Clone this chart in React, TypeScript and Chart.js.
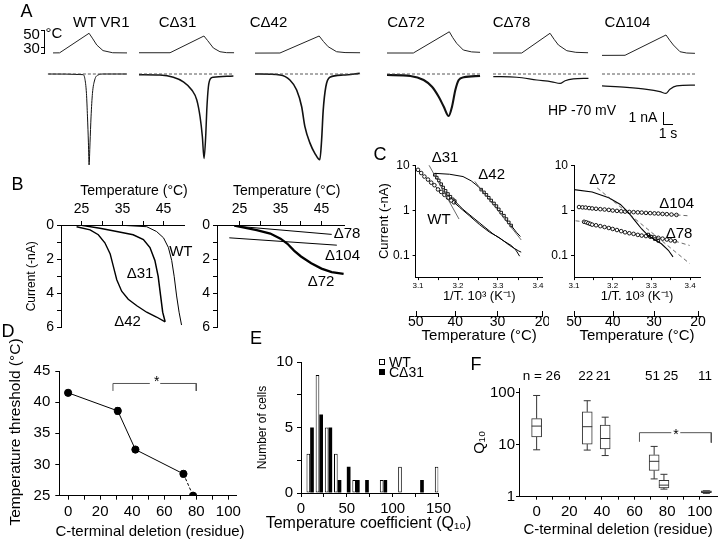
import React, { useEffect, useRef } from 'react';
import { Chart, registerables } from 'chart.js';
Chart.register(...registerables);

const FONT = "'Liberation Sans', Arial, Helvetica, sans-serif";
Chart.defaults.font.family = FONT;
Chart.defaults.color = '#000';

type P = [number, number];

// ---------------- Panel A data: [time s, temperature °C] / [time s, current nA] ----------------
const aTitles = ['WT VR1', 'CΔ31', 'CΔ42', 'CΔ72', 'CΔ78', 'CΔ104'];
const tempWT: P[] = [[3.1, 24.1], [3.8, 24.2], [6.95, 47.2], [7.3, 41.5], [7.77, 33.4], [8.44, 26.8], [9.47, 24.3], [11, 24.1]];
const curWT: P[] = [[2.6, 0], [6.3, -0.05], [6.49, -0.33], [6.67, -1.5], [6.78, -3.3], [6.88, -5.3], [6.95, -7.0], [7.05, -5.3], [7.16, -3.3], [7.31, -1.5], [7.55, -0.46], [7.9, -0.08], [8.5, 0], [11, 0]];
const baseWT: P[] = [[2.55, 0], [11, 0]];
const tempD31: P[] = [[0, 24.3], [3.3, 24.3], [6.9, 44], [7.3, 38.5], [7.9, 29.9], [8.6, 25.5], [9.3, 24.4], [10.1, 24.3]];
const curD31: P[] = [[0, -0.05], [2.23, -0.08], [3.65, -0.25], [4.71, -0.6], [5.61, -1.23], [6.14, -2.0], [6.49, -3.3], [6.73, -4.8], [6.91, -6.5], [7.1, -4.6], [7.2, -2.8], [7.37, -1.0], [7.63, -0.33], [7.9, -0.25], [10.03, -0.15]];
const baseD31: P[] = [[0, 0], [10.1, 0]];
const tempD42: P[] = [[0, 23.9], [2.66, 24], [6.84, 44], [7.3, 37.5], [7.8, 31.4], [8.7, 25.5], [9.6, 24.5], [11.2, 24.3]];
const curD42: P[] = [[0, 0], [2.66, -0.08], [3.72, -0.46], [4.44, -1.23], [4.97, -2.5], [5.32, -4.05], [5.85, -5.3], [6.38, -6.1], [6.91, -6.6], [7.1, -5.1], [7.27, -2.8], [7.55, -0.98], [7.98, -0.25], [9.39, -0.08], [11.17, 0.05]];
const baseD42: P[] = [[0, 0], [11.2, 0]];
const tempD72: P[] = [[0, 24], [2.8, 24], [6.63, 49], [7.0, 42], [7.41, 35.4], [8.12, 27.5], [9.0, 25.3], [9.9, 24.8]];
const curD72: P[] = [[0, -0.08], [2.48, -0.15], [3.9, -0.46], [4.79, -0.98], [5.5, -1.75], [6.03, -2.5], [6.56, -3.23], [6.92, -2.5], [7.27, -1.23], [7.63, -0.46], [8.16, -0.25], [9.9, -0.15]];
const baseD72: P[] = [[0, 0], [9.95, 0]];
const tempD78: P[] = [[0, 24], [3.05, 24], [6.06, 47.2], [6.5, 40], [6.95, 33.4], [7.84, 26.7], [8.8, 24.8], [10.1, 24.3]];
const curD78: P[] = [[0.03, -0.2], [2.52, -0.25], [4.65, -0.46], [6.24, -0.6], [7.13, -0.72], [7.66, -0.52], [8.54, -0.38], [10.14, -0.33]];
const baseD78: P[] = [[0, 0], [10.1, 0]];
const tempD104: P[] = [[0, 21.2], [2.45, 21.3], [6.81, 45.2], [7.2, 39], [7.59, 33.4], [8.3, 25.5], [9.0, 24.0], [9.89, 23.6]];
const curD104: P[] = [[0, -0.92], [2.63, -1.03], [4.76, -1.18], [6.17, -1.36], [6.81, -1.49], [7.23, -1.18], [7.95, -0.92], [9.89, -0.85]];
const baseD104: P[] = [[0, 0], [9.9, 0]];

// ---------------- Panel B data: [temperature °C, current -nA] ----------------
const bTempTicks = [25, 30, 35, 40, 45];
const bTempLabels = [25, 35, 45];
const bCurTicks = [0, 1, 2, 3, 4, 5, 6];
const bCurLabels = [0, 2, 4, 6];
const bWT: P[] = [[24, 0], [30, 0.01], [35, 0.02], [40.9, 0.1], [43.3, 0.38], [45, 0.75], [46.2, 1.32], [47, 2.07], [47.6, 3.0], [48.2, 4.15], [48.8, 5.1], [49.4, 5.85]];
const bD31: P[] = [[24, 0], [25, 0.02], [29.5, 0.19], [33.6, 0.38], [37.6, 0.57], [40.1, 0.85], [41.7, 1.32], [42.9, 2.07], [43.7, 3.0], [44.3, 4.15], [44.8, 5.1], [45.4, 5.66]];
const bD42: P[] = [[23.8, 0.1], [27.1, 0.28], [29.1, 0.57], [30.7, 1.04], [32, 1.7], [32.8, 2.45], [33.6, 3.2], [34.8, 3.87], [36.4, 4.34], [38.5, 4.72], [40.9, 5.1], [43.3, 5.38], [45.4, 5.66]];
const bD72: P[] = [[23.75, 0.04], [29.2, 0.3], [32.5, 0.5], [35, 0.8], [36.7, 1.1], [38.3, 1.5], [40, 1.84], [42.5, 2.24], [45, 2.55], [47.5, 2.75], [50.4, 2.86]];
const bD78: P[] = [[23.75, 0.06], [47.5, 0.55]];
const bD104: P[] = [[22.5, 0.75], [48.75, 1.18]];

// ---------------- Panel C data: [1/T x 10^3 (1/K), current -nA] ----------------
const cInvTicks = [3.1, 3.15, 3.2, 3.25, 3.3, 3.35, 3.4];
const cInvLabels = [3.1, 3.2, 3.3, 3.4];
const cTempTicks = [50, 40, 30, 20];
const cCurTicks = [0.1, 1, 10];
const cWTcirc: P[] = [[3.1, 7.9], [3.108, 6.7], [3.116, 5.6], [3.125, 4.8], [3.133, 4.1], [3.141, 3.6], [3.15, 2.9], [3.158, 2.55], [3.166, 2.2], [3.175, 1.9], [3.183, 1.65], [3.19, 1.5]];
const cWTline: P[] = [[3.19, 1.5], [3.204, 1.16], [3.229, 0.75], [3.254, 0.48], [3.279, 0.326], [3.304, 0.245], [3.329, 0.166], [3.342, 0.141], [3.352, 0.125], [3.358, 0.118]];
const cD31sq: P[] = [[3.142, 6.1], [3.147, 5.3], [3.152, 4.6], [3.158, 3.8], [3.163, 3.2], [3.169, 2.7], [3.175, 2.3], [3.181, 2.0], [3.187, 1.75], [3.192, 1.6]];
const cD31line: P[] = [[3.192, 1.6], [3.2125, 1.05], [3.2375, 0.69], [3.2625, 0.455], [3.2875, 0.3], [3.3125, 0.214], [3.333, 0.166], [3.345, 0.13], [3.354, 0.096]];
const cD31fit: P[] = [[3.125, 11], [3.2025, 0.64]];
const cD42line: P[] = [[3.142, 6.6], [3.179, 6.3], [3.2125, 5.6], [3.233, 4.5], [3.25, 3.4], [3.258, 2.87]];
const cD42sq: P[] = [[3.258, 2.87], [3.265, 2.5], [3.271, 2.2], [3.277, 1.9], [3.283, 1.65], [3.29, 1.42], [3.296, 1.24], [3.302, 1.05], [3.308, 0.89], [3.315, 0.76], [3.321, 0.64], [3.327, 0.54], [3.333, 0.46]];
const cD42end: P[] = [[3.333, 0.46], [3.346, 0.326], [3.356, 0.262]];
const cD42fit: P[] = [[3.242, 4.37], [3.358, 0.22]];
const cD72line: P[] = [[3.1, 2.87], [3.147, 2.55], [3.19, 1.89], [3.22, 1.35], [3.241, 0.89], [3.258, 0.585], [3.275, 0.385], [3.292, 0.275], [3.309, 0.222], [3.326, 0.181], [3.344, 0.13], [3.356, 0.093]];
const cD72sq: P[] = [[3.292, 0.29], [3.3, 0.26], [3.309, 0.23], [3.318, 0.21]];
const cD72fit: P[] = [[3.16, 3.13], [3.399, 0.066]];
const cD104circ: P[] = [[3.113, 1.18], [3.122, 1.16], [3.13, 1.15], [3.139, 1.12], [3.147, 1.1], [3.157, 1.08], [3.168, 1.06], [3.179, 1.04], [3.19, 1.02], [3.2, 0.99], [3.211, 0.97], [3.222, 0.95], [3.232, 0.935], [3.243, 0.92], [3.254, 0.91], [3.265, 0.9], [3.275, 0.89], [3.286, 0.875], [3.297, 0.865], [3.308, 0.855], [3.318, 0.846], [3.329, 0.83], [3.34, 0.82], [3.352, 0.805], [3.365, 0.79]];
const cD104fit: P[] = [[3.365, 0.79], [3.399, 0.752]];
const cD78circ: P[] = [[3.126, 0.556], [3.132, 0.54], [3.137, 0.52], [3.142, 0.5], [3.147, 0.48], [3.157, 0.465], [3.168, 0.445], [3.179, 0.425], [3.19, 0.405], [3.2, 0.385], [3.211, 0.365], [3.222, 0.345], [3.232, 0.325], [3.243, 0.31], [3.254, 0.3], [3.265, 0.285], [3.275, 0.275], [3.286, 0.268], [3.297, 0.26], [3.308, 0.252], [3.318, 0.245], [3.329, 0.235], [3.34, 0.225], [3.35, 0.215], [3.361, 0.207]];
const cD78fitA: P[] = [[3.104, 0.585], [3.126, 0.556]];
const cD78fitB: P[] = [[3.361, 0.207], [3.399, 0.166]];

// ---------------- Panel D data ----------------
const dDeletion = [0, 31, 42, 72, 78];
const dThreshold = [41.5, 38.6, 32.4, 28.5, 25];
const dError = [0.4, 0.5, 0.35, 0.45, 0];
const dXTicks = [0, 10, 20, 30, 40, 50, 60, 70, 80, 90, 100];
const dXLabels = [0, 20, 40, 60, 80, 100];
const dYTicks = [25, 30, 35, 40, 45];
const dBracket: P[] = [[28, 41.8], [28, 43], [51, 43], [57.5, 43], [80, 43], [80, 41.8]];

// ---------------- Panel E data ----------------
const eBins = [10, 20, 30, 40, 50, 60, 70, 80, 90, 100, 110, 120, 130, 140, 150];
const eWT = [3, 9, 5, 3, 0, 1, 0, 0, 1, 0, 2, 0, 0, 0, 2];
const eD31 = [5, 6, 5, 1, 2, 1, 1, 0, 1, 0, 0, 0, 1, 0, 0];
const eXTicks = [0, 25, 50, 75, 100, 125, 150];
const eXLabels = [0, 50, 100, 150];
const eYTicks = [0, 2.5, 5, 7.5, 10];
const eYLabels = [0, 5, 10];

// ---------------- Panel F data ----------------
const fDeletion = [0, 31, 42, 72, 78, 104];
const fLow = [8.0, 7.9, 6.2, 2.2, 1.4, 1.16];
const fQ1 = [14.2, 10.3, 8.3, 3.2, 1.48, 1.19];
const fMedian = [22.9, 22.3, 13.2, 4.8, 1.67, 1.24];
const fQ3 = [32, 43, 24, 6.4, 2.07, 1.3];
const fHigh = [89, 70.5, 34, 9.3, 2.7, 1.3];
const fN = [26, 22, 21, 51, 25, 11];
const fXTicks = [0, 10, 20, 30, 40, 50, 60, 70, 80, 90, 100];
const fXLabels = [0, 20, 40, 60, 80, 100];
const fYTicks = [1, 10, 100];
const fBracket: P[] = [[63, 11.4], [63, 17.1], [82.5, 17.1], [88, 17.1], [107, 17.1], [107, 11]];

// ---------------- helpers ----------------
const xy = (arr: P[]) => arr.map(([x, y]) => ({ x, y }));
const gapAt = (arr: P[], after: number) => {
  const out: any[] = xy(arr);
  out.splice(after + 1, 0, { x: (arr[after][0] + arr[after + 1][0]) / 2, y: null });
  return out;
};

function frame(a: any, ax: any, pad: any) {
  const x0 = Math.floor(a.l - ax.l - pad.l), y0 = Math.floor(a.t - ax.t - pad.t);
  const x1 = Math.ceil(a.r + ax.r + pad.r), y1 = Math.ceil(a.b + ax.b + pad.b);
  return {
    left: x0, top: y0, width: x1 - x0, height: y1 - y0,
    padding: { left: a.l - ax.l - x0, top: a.t - ax.t - y0, right: x1 - a.r - ax.r, bottom: y1 - a.b - ax.b },
  };
}

const common = (padding: any) => ({
  responsive: false,
  animation: false,
  events: [],
  layout: { padding, autoPadding: false },
  plugins: { legend: { display: false }, tooltip: { enabled: false } },
});

function axis(o: any) {
  const vertical = o.pos === 'left' || o.pos === 'right';
  const fmt = o.fmt || ((v: number) => String(v));
  return {
    type: o.type || 'linear',
    position: o.pos,
    min: o.min,
    max: o.max,
    reverse: !!o.reverse,
    weight: o.weight || 0,
    offset: false,
    afterBuildTicks: (s: any) => { s.ticks = o.ticks.map((v: number) => ({ value: v })); },
    afterFit: (s: any) => { if (vertical) s.width = o.size; else s.height = o.size; },
    ticks: {
      autoSkip: false, maxRotation: 0, minRotation: 0, padding: o.pad, color: '#000',
      font: { size: o.font },
      callback: (v: number) => (!o.labeled || o.labeled.some((l: number) => Math.abs(l - v) < 1e-9)) ? fmt(v) : '',
    },
    grid: { display: true, drawOnChartArea: false, drawTicks: o.tl > 0, tickLength: o.tl, color: '#000', tickColor: '#000', lineWidth: 1, offset: false },
    border: { display: true, color: '#000', width: 1 },
    title: o.title
      ? { display: true, text: o.title, color: '#000', font: { size: o.titleFont }, padding: o.titlePad }
      : { display: false },
  };
}

const line = (arr: P[], w: number, extra: any = {}) => ({
  data: xy(arr), borderColor: '#000', borderWidth: w, pointRadius: 0, tension: 0, ...extra,
});
const marks = (arr: P[], style: string) => ({
  data: xy(arr), borderColor: '#000', borderWidth: 0.8, pointRadius: 1.8, pointStyle: style,
  pointBackgroundColor: '#fff', pointBorderColor: '#000', pointBorderWidth: 0.9, tension: 0,
});
const fit = (arr: P[], dash: number[]) => ({
  data: xy(arr), borderColor: '#444', borderWidth: 0.8, pointRadius: 0, borderDash: dash, tension: 0,
});

function ChartCanvas({ g, make }: any) {
  const ref = useRef<HTMLCanvasElement>(null);
  useEffect(() => {
    const chart = new Chart(ref.current as HTMLCanvasElement, make(g.padding));
    return () => chart.destroy();
  }, []);
  return (
    <canvas ref={ref} width={g.width} height={g.height}
      style={{ position: 'absolute', left: g.left, top: g.top, width: g.width, height: g.height }} />
  );
}

// ---------------- Panel A ----------------
const PX_PER_S = 9.4;
const A_TOP = 25, A_H = 145;
const yTmax = 24 + (53 - A_TOP) / 0.85, yTmin = yTmax - A_H / 0.85;
const yImax = (74 - A_TOP) / 13, yImin = yImax - A_H / 13;
const aCols = [
  { left: 24, tMax: 11, temp: tempWT, cur: curWT, base: baseWT, lw: 1, title: 101.3 },
  { left: 139, tMax: 10.2, temp: tempD31, cur: curD31, base: baseD31, lw: 1.5, title: 177.5 },
  { left: 255, tMax: 11.3, temp: tempD42, cur: curD42, base: baseD42, lw: 1.6, title: 268.5 },
  { left: 387, tMax: 10, temp: tempD72, cur: curD72, base: baseD72, lw: 2.1, title: 406 },
  { left: 493, tMax: 10.2, temp: tempD78, cur: curD78, base: baseD78, lw: 1.2, title: 511.5 },
  { left: 602, tMax: 10, temp: tempD104, cur: curD104, base: baseD104, lw: 1.2, title: 627.5 },
];
const aMake = (c: any) => (padding: any) => ({
  type: 'line',
  data: {
    datasets: [
      { ...line(c.temp, 1, { borderColor: '#222' }), yAxisID: 'yT' },
      { ...line(c.base, 0.9, { borderColor: '#444', borderDash: [3, 2] }), yAxisID: 'yI' },
      { ...line(c.cur, c.lw, { cubicInterpolationMode: 'monotone', borderColor: '#111' }), yAxisID: 'yI' },
    ],
  },
  options: {
    ...common(0),
    scales: {
      x: { type: 'linear', display: false, min: 0, max: c.tMax },
      yT: { type: 'linear', display: false, min: yTmin, max: yTmax },
      yI: { type: 'linear', display: false, min: yImin, max: yImax },
    },
  },
});

// ---------------- Panel B ----------------
const gBL = frame({ l: 61, t: 225, r: 184, b: 331 }, { l: 41, t: 50, r: 0, b: 0 }, { l: 0, t: 0, r: 6, b: 8 });
const gBR = frame({ l: 217, t: 225, r: 344, b: 331 }, { l: 20, t: 50, r: 0, b: 0 }, { l: 0, t: 0, r: 6, b: 8 });
const bX = () => axis({ pos: 'top', min: 20, max: 50, ticks: bTempTicks, labeled: bTempLabels, size: 50, font: 14, tl: 4, pad: 3 });
const makeBL = (padding: any) => ({
  type: 'line',
  data: { datasets: [line(bWT, 1), line(bD31, 1.5), line(bD42, 1.4)] },
  options: {
    ...common(padding),
    scales: {
      x: bX(),
      y: axis({ pos: 'left', min: 0, max: 6, reverse: true, ticks: bCurTicks, labeled: bCurLabels, size: 41, font: 14, tl: 4, pad: 3, title: 'Current (-nA)', titleFont: 12, titlePad: { top: 4, bottom: 0 } }),
    },
  },
});
const makeBR = (padding: any) => ({
  type: 'line',
  data: { datasets: [line(bD78, 1), line(bD104, 1), line(bD72, 2.3)] },
  options: {
    ...common(padding),
    scales: {
      x: { ...bX(), min: 19.5, max: 50.5 },
      y: axis({ pos: 'left', min: 0, max: 6, reverse: true, ticks: bCurTicks, labeled: bCurLabels, size: 20, font: 14, tl: 4, pad: 3 }),
    },
  },
});

// ---------------- Panel C ----------------
const invT = (t: number) => 1000 / (t + 273.15);
const upTicks = {
  id: 'upTicks',
  afterDraw(chart: any) {
    const s = chart.scales.x2, ctx = chart.ctx;
    ctx.save(); ctx.strokeStyle = '#000'; ctx.lineWidth = 1; ctx.beginPath();
    s.ticks.forEach((t: any) => {
      const px = Math.round(s.getPixelForValue(t.value)) + 0.5;
      ctx.moveTo(px, s.top); ctx.lineTo(px, s.top - 5);
    });
    ctx.stroke(); ctx.restore();
  },
};
const cScales = (xmin: number, xmax: number, x2min: number, x2max: number, withTitle: boolean, ySize: number) => ({
  x: axis({ pos: 'bottom', min: xmin, max: xmax, ticks: cInvTicks, labeled: cInvLabels, fmt: (v: number) => v.toFixed(1), size: 38.9, font: 8, tl: 3, pad: 1, title: '1/T. 10³ (K⁻¹)', titleFont: 13, titlePad: { top: 0, bottom: 11.5 }, weight: 0 }),
  x2: axis({ pos: 'bottom', min: x2min, max: x2max, ticks: cTempTicks.map(invT), fmt: (v: number) => String(Math.round(1000 / v - 273.15)), size: 28.4, font: 14, tl: 0, pad: -2.7, title: 'Temperature (°C)', titleFont: 15, titlePad: { top: 0, bottom: 0 }, weight: 1 }),
  y: axis({ type: 'logarithmic', pos: 'left', min: 0.033, max: 10, ticks: cCurTicks, size: ySize, font: 12, tl: 3, pad: 3, title: withTitle ? 'Current (-nA)' : undefined, titleFont: 13, titlePad: { top: 4, bottom: 0 } }),
});
const gCL = frame({ l: 415.6, t: 163.3, r: 542.8, b: 277.1 }, { l: 43, t: 0, r: 0, b: 67.3 }, { l: 0, t: 8, r: 6, b: 1 });
const gCR = frame({ l: 574, t: 163.3, r: 700, b: 277.1 }, { l: 30, t: 0, r: 0, b: 67.3 }, { l: 0, t: 8, r: 8, b: 1 });
const makeCL = (padding: any) => ({
  type: 'line',
  data: {
    datasets: [
      fit(cD31fit, []), fit(cD42fit, []),
      line(cWTline, 1), line(cD31line, 1), line(cD42line, 1), line(cD42end, 1),
      marks(cWTcirc, 'circle'), marks(cD31sq, 'rect'), marks(cD42sq, 'rect'),
    ],
  },
  options: { ...common(padding), scales: cScales(3.094, 3.412, 3.094, 3.412, true, 43) },
  plugins: [upTicks],
});
const makeCR = (padding: any) => ({
  type: 'line',
  data: {
    datasets: [
      fit(cD72fit, [4, 3]), fit(cD104fit, [4, 3]), fit(cD78fitA, [4, 3]), fit(cD78fitB, [4, 3]),
      line(cD72line, 1.1), marks(cD72sq, 'rect'),
      marks(cD104circ, 'circle'), marks(cD78circ, 'circle'),
    ],
  },
  options: { ...common(padding), scales: cScales(3.1, 3.4258, 3.0945, 3.4162, false, 30) },
  plugins: [upTicks],
});

// ---------------- Panel D ----------------
const gD = frame({ l: 59.3, t: 365, r: 240, b: 495.7 }, { l: 56, t: 0, r: 0, b: 43.3 }, { l: 0, t: 8, r: 4, b: 0 });
const errBars = {
  id: 'errBars',
  afterDatasetsDraw(chart: any) {
    const { ctx, scales: { x, y } } = chart;
    ctx.save(); ctx.strokeStyle = '#000'; ctx.lineWidth = 1; ctx.beginPath();
    dDeletion.forEach((d, i) => {
      const e = dError[i];
      if (!e) return;
      const px = x.getPixelForValue(d);
      const y1 = y.getPixelForValue(dThreshold[i] + e), y2 = y.getPixelForValue(dThreshold[i] - e);
      ctx.moveTo(px, y1); ctx.lineTo(px, y2);
      ctx.moveTo(px - 2.5, y1); ctx.lineTo(px + 2.5, y1);
      ctx.moveTo(px - 2.5, y2); ctx.lineTo(px + 2.5, y2);
    });
    ctx.stroke(); ctx.restore();
  },
};
const makeD = (padding: any) => ({
  type: 'line',
  data: {
    datasets: [
      {
        data: dDeletion.map((x, i) => ({ x, y: dThreshold[i] })),
        borderColor: '#000', borderWidth: 1, pointRadius: 3.6, pointBackgroundColor: '#000', pointBorderColor: '#000', tension: 0,
        segment: { borderDash: (ctx: any) => (ctx.p1DataIndex === dDeletion.length - 1 ? [3, 2] : undefined) },
      },
      { data: gapAt(dBracket, 2), borderColor: '#555', borderWidth: 1, pointRadius: 0, spanGaps: false, tension: 0 },
    ],
  },
  options: {
    ...common(padding),
    scales: {
      x: axis({ pos: 'bottom', min: -5.5, max: 104.9, ticks: dXTicks, labeled: dXLabels, size: 43.3, font: 15, tl: 4, pad: 3 }),
      y: axis({ pos: 'left', min: 25, max: 45, ticks: dYTicks, size: 56, font: 15, tl: 4, pad: 5 }),
    },
  },
  plugins: [errBars],
});

// ---------------- Panel E ----------------
const gE = frame({ l: 301, t: 357, r: 448, b: 493 }, { l: 49, t: 0, r: 0, b: 39.3 }, { l: 0, t: 8, r: 6, b: 0 });
const makeE = (padding: any) => ({
  type: 'bar',
  data: {
    datasets: [
      { data: eWT.map((c, i) => ({ x: eBins[i], y: c })).filter((p) => p.y > 0), backgroundColor: '#fff', borderColor: '#000', borderWidth: 1, borderSkipped: false, categoryPercentage: 0.8, barPercentage: 1 },
      { data: eD31.map((c, i) => ({ x: eBins[i], y: c })).filter((p) => p.y > 0), backgroundColor: '#000', borderColor: '#000', borderWidth: 0, categoryPercentage: 0.8, barPercentage: 1 },
    ],
  },
  options: {
    ...common(padding),
    scales: {
      x: axis({ pos: 'bottom', min: 0, max: 150, ticks: eXTicks, labeled: eXLabels, size: 39.3, font: 15, tl: 4, pad: 3 }),
      y: axis({ pos: 'left', min: 0, max: 10, ticks: eYTicks, labeled: eYLabels, size: 49, font: 15, tl: 4, pad: 4, title: 'Number of cells', titleFont: 12, titlePad: { top: 3, bottom: 0 } }),
    },
  },
});

// ---------------- Panel F ----------------
const gF = frame({ l: 519, t: 386, r: 717, b: 496.7 }, { l: 52, t: 0, r: 0, b: 42.3 }, { l: 0, t: 8, r: 2, b: 0 });
const whiskers = {
  id: 'whiskers',
  afterDatasetsDraw(chart: any) {
    const { ctx, scales: { x, y } } = chart;
    ctx.save(); ctx.strokeStyle = '#333'; ctx.lineWidth = 1; ctx.beginPath();
    fDeletion.forEach((d, i) => {
      const px = x.getPixelForValue(d);
      const yl = y.getPixelForValue(fLow[i]), y1 = y.getPixelForValue(fQ1[i]);
      const ym = y.getPixelForValue(fMedian[i]), y3 = y.getPixelForValue(fQ3[i]), yh = y.getPixelForValue(fHigh[i]);
      ctx.moveTo(px, y3); ctx.lineTo(px, yh); ctx.moveTo(px - 3.5, yh); ctx.lineTo(px + 3.5, yh);
      ctx.moveTo(px, y1); ctx.lineTo(px, yl); ctx.moveTo(px - 3.5, yl); ctx.lineTo(px + 3.5, yl);
      ctx.moveTo(px - 5, ym); ctx.lineTo(px + 5, ym);
    });
    ctx.stroke(); ctx.restore();
  },
};
const makeF = (padding: any) => ({
  type: 'bar',
  data: {
    datasets: [
      { type: 'bar', data: fDeletion.map((x, i) => ({ x, y: [fQ1[i], fQ3[i]] })), backgroundColor: '#fff', borderColor: '#333', borderWidth: 1, borderSkipped: false, barThickness: 10 },
      { type: 'line', data: gapAt(fBracket, 2), borderColor: '#555', borderWidth: 1, pointRadius: 0, spanGaps: false, tension: 0 },
    ],
  },
  options: {
    ...common(padding),
    scales: {
      x: axis({ pos: 'bottom', min: -10.8, max: 110.5, ticks: fXTicks, labeled: fXLabels, size: 42.3, font: 15, tl: 3, pad: 3, title: 'C-terminal deletion (residue)', titleFont: 15, titlePad: { top: 0, bottom: 0 } }),
      y: axis({ type: 'logarithmic', pos: 'left', min: 1, max: 124, ticks: fYTicks, size: 52, font: 15, tl: 3, pad: 1, title: 'Q₁₀', titleFont: 15, titlePad: { top: 4, bottom: 0 } }),
    },
  },
  plugins: [whiskers],
});

// ---------------- text overlay ----------------
function Txt({ x, y, s, t, anchor = 'middle', rot = false }: any) {
  if (rot) {
    return (
      <div style={{ position: 'absolute', left: x, top: y, fontSize: s, lineHeight: `${s}px`, whiteSpace: 'nowrap', transform: 'translate(-50%, -50%) rotate(-90deg)' }}>{t}</div>
    );
  }
  const tx = anchor === 'middle' ? '-50%' : anchor === 'end' ? '-100%' : '0';
  return (
    <div style={{ position: 'absolute', left: x, top: y - 0.49 * s, fontSize: s, lineHeight: `${s}px`, whiteSpace: 'nowrap', transform: `translateX(${tx})` }}>{t}</div>
  );
}
const Rule = ({ x, y, w, h }: any) => <div style={{ position: 'absolute', left: x, top: y, width: w, height: h, background: '#000' }} />;

const fNx = [541.7, 585.8, 603.3, 652.5, 670.8, 705];

export default function App() {
  const texts: any[] = [
    { t: 'A', x: 26.5, y: 11, s: 18 }, { t: 'B', x: 17.5, y: 184, s: 18 }, { t: 'C', x: 380, y: 154, s: 18 },
    { t: 'D', x: 8, y: 331, s: 18 }, { t: 'E', x: 256, y: 338, s: 18 }, { t: 'F', x: 476, y: 364, s: 18 },
    ...aCols.map((c, i) => ({ t: aTitles[i], x: c.title, y: 21, s: 15 })),
    { t: '50', x: 31.5, y: 33, s: 15 }, { t: '30', x: 31.5, y: 47.5, s: 15 }, { t: '°C', x: 54, y: 32.5, s: 15 },
    { t: 'HP -70 mV', x: 582, y: 110, s: 14 }, { t: '1 nA', x: 643, y: 117, s: 14 }, { t: '1 s', x: 668, y: 133, s: 14 },
    { t: 'Temperature (°C)', x: 134, y: 190, s: 14 }, { t: 'Temperature (°C)', x: 286.7, y: 190, s: 14 },
    { t: 'WT', x: 180.8, y: 250, s: 15 }, { t: 'Δ31', x: 140, y: 272.5, s: 15 }, { t: 'Δ42', x: 127.5, y: 320, s: 15 },
    { t: 'Δ78', x: 347, y: 232, s: 15 }, { t: 'Δ104', x: 342.5, y: 254, s: 15 }, { t: 'Δ72', x: 321, y: 280, s: 15 },
    { t: 'Δ31', x: 445, y: 156, s: 15 }, { t: 'Δ42', x: 491.7, y: 173, s: 15 }, { t: 'WT', x: 439, y: 218, s: 15 },
    { t: 'Δ72', x: 602.5, y: 178, s: 15 }, { t: 'Δ104', x: 676.7, y: 202, s: 15 }, { t: 'Δ78', x: 679, y: 232, s: 15 },
    { t: 'Temperature threshold (°C)', x: 15, y: 432, s: 15.5, rot: true },
    { t: 'C-terminal deletion (residue)', x: 150, y: 530, s: 15 },
    { t: 'Temperature coefficient (Q₁₀)', x: 368.5, y: 523, s: 16 },
    { t: '*', x: 156.7, y: 381, s: 14 }, { t: '*', x: 676, y: 434, s: 14 },
    ...fN.map((n, i) => ({ t: i === 0 ? `n = ${n}` : String(n), x: fNx[i], y: 376, s: 13.5 })),
    { t: 'WT', x: 389, y: 361.7, s: 14, anchor: 'start' }, { t: 'CΔ31', x: 389, y: 372, s: 14, anchor: 'start' },
  ];
  return (
    <div style={{ position: 'absolute', left: 0, top: 0, width: 720, height: 540, background: '#fff', overflow: 'hidden', fontFamily: FONT, color: '#000' }}>
      {aCols.map((c, i) => (
        <ChartCanvas key={'a' + i} g={{ left: c.left, top: A_TOP, width: Math.round(c.tMax * PX_PER_S), height: A_H, padding: 0 }} make={aMake(c)} />
      ))}
      <ChartCanvas g={gBL} make={makeBL} />
      <ChartCanvas g={gBR} make={makeBR} />
      <ChartCanvas g={gCL} make={makeCL} />
      <ChartCanvas g={gCR} make={makeCR} />
      <ChartCanvas g={gD} make={makeD} />
      <ChartCanvas g={gE} make={makeE} />
      <ChartCanvas g={gF} make={makeF} />
      {/* temperature scale bar */}
      <Rule x={44} y={30} w={1} h={24} />
      <Rule x={41} y={30} w={4} h={1} />
      <Rule x={41} y={47} w={4} h={1} />
      <Rule x={41} y={53} w={4} h={1} />
      {/* current / time scale bar */}
      <Rule x={663} y={112} w={1} h={13} />
      <Rule x={663} y={124} w={10} h={1} />
      {/* E legend */}
      <div style={{ position: 'absolute', left: 379, top: 358.5, width: 4, height: 4, border: '1px solid #000', background: '#fff' }} />
      <div style={{ position: 'absolute', left: 379, top: 369, width: 6, height: 6, background: '#000' }} />
      {texts.map((d, i) => <Txt key={i} {...d} />)}
    </div>
  );
}
